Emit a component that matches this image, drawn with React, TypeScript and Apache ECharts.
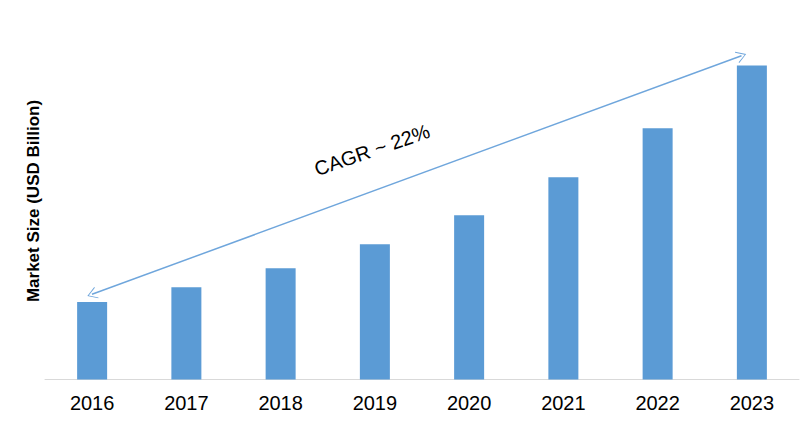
import React, { useEffect, useRef } from "react";
import * as echarts from "echarts";

const years = ["2016", "2017", "2018", "2019", "2020", "2021", "2022", "2023"];
const marketSize = [7.75, 9.25, 11.15, 13.55, 16.45, 20.25, 25.15, 31.45];
const yTitle = "Market Size (USD Billion)";
const cagrLabel = "CAGR ~ 22%";

const openArrow = "path://M0,0 L10,18 L8.6,18.8 L0,3 L-8.6,18.8 L-10,18 Z";

export default function App() {
  const ref = useRef<HTMLDivElement>(null);
  useEffect(() => {
    if (!ref.current) return;
    const chart = echarts.init(ref.current, null, { renderer: "svg" });
    chart.setOption({
      animation: false,
      grid: { left: 45, right: 1, top: 30, bottom: 46.5 },
      xAxis: {
        type: "category",
        data: years,
        axisLine: { lineStyle: { color: "#d9d9d9", width: 1 } },
        axisTick: { show: false },
        axisLabel: {
          color: "#000",
          fontSize: 20,
          fontFamily: "Liberation Sans, Arial, sans-serif",
          margin: 13,
        },
      },
      yAxis: {
        type: "value",
        min: 0,
        max: 35,
        show: false,
        splitLine: { show: false },
      },
      graphic: [
        {
          type: "text",
          x: 33,
          y: 201,
          rotation: Math.PI / 2,
          style: {
            text: yTitle,
            fill: "#000",
            font: "bold 17px 'Liberation Sans', Arial, sans-serif",
            align: "center",
            verticalAlign: "middle",
          },
        },
        {
          type: "text",
          x: 372,
          y: 150,
          rotation: (19 * Math.PI) / 180,
          style: {
            text: cagrLabel,
            fill: "#000",
            font: "20px 'Liberation Sans', Arial, sans-serif",
            align: "center",
            verticalAlign: "middle",
          },
        },
      ],
      series: [
        {
          type: "bar",
          data: marketSize,
          barWidth: 30,
          itemStyle: { color: "#5B9BD5" },
          markLine: {
            silent: true,
            symbol: [openArrow, openArrow],
            symbolSize: [12, 10],
            label: { show: false },
            lineStyle: { color: "#6FA6DC", width: 1.5, type: "solid" },
            data: [[{ x: 92, y: 294.3 }, { x: 741.5, y: 55.8 }]],
          },
        },
      ],
    });
    return () => chart.dispose();
  }, []);
  return (
    <div
      ref={ref}
      style={{ position: "fixed", left: 0, top: 0, width: 800, height: 426, background: "#fff" }}
    />
  );
}
